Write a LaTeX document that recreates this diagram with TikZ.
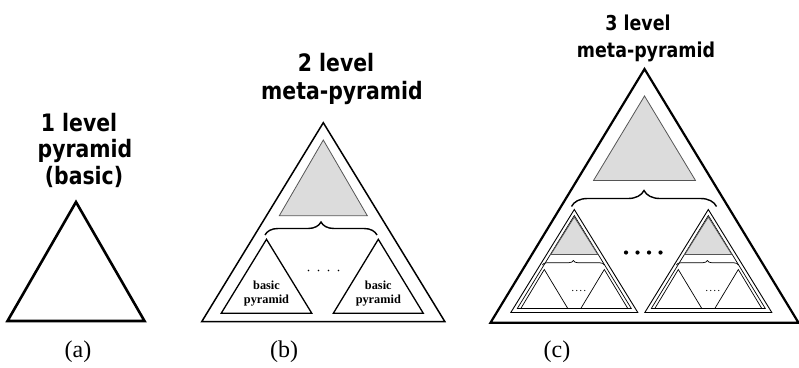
\documentclass[tikz,border=0pt]{standalone}
\usepackage{fontspec}
\setmainfont{Liberation Serif}
\newfontfamily\headfont{DejaVu Sans}[FakeStretch=0.85]
\usetikzlibrary{decorations.pathreplacing}

\definecolor{shade}{HTML}{DCDCDC}
\definecolor{shadeline}{HTML}{555555}

% triangle: [style]{centre x}{apex y}{base y}{half width}
\newcommand\drawtri[5][]{\draw[#1] (#2,#3) -- (#2+#5,#4) -- (#2-#5,#4) -- cycle;}
% a row of small round dots: {first x}{y}{spacing}{radius}
\newcommand\dotrow[4]{\foreach \k in {0,...,3}{\fill (#1+\k*#3,#2) circle[radius=#4];}}

\tikzset{
  heading/.style={font=\headfont\bfseries\fontsize{24}{28}\selectfont, anchor=base, inner sep=0pt},
  smallheading/.style={font=\headfont\bfseries\fontsize{20.5}{24}\selectfont, anchor=base, inner sep=0pt},
  caption/.style={font=\fontsize{24}{28}\selectfont, anchor=base, inner sep=0pt},
  inlabel/.style={font=\bfseries\fontsize{12.3}{14}\selectfont, anchor=base, inner sep=0pt},
  bigedge/.style={line width=2.2pt, line join=miter},
  midedge/.style={line width=1.5pt, line join=miter},
  thinedge/.style={line width=0.9pt, line join=miter},
  hairedge/.style={line width=0.7pt, line join=miter},
  greytri/.style={fill=shade, draw=shadeline, line width=0.8pt},
  bracebig/.style={decorate, decoration={brace, amplitude=#1}, line width=1.4pt},
  bracesmall/.style={decorate, decoration={brace, amplitude=#1}, line width=0.7pt},
}

% a two-level meta-pyramid drawn small, centred at x = #1
\newcommand\subpyramid[1]{%
  \drawtri[thinedge]{#1}{209.5}{312.5}{63.5}
  \drawtri[hairedge]{#1}{215.5}{308.5}{57}
  \drawtri[greytri]{#1}{217}{254.5}{23.5}
  \draw[bracesmall=4.5pt] (#1-32,265) -- (#1+30,265);
  \drawtri[hairedge]{#1-30}{269.5}{308.5}{23.5}
  \drawtri[hairedge]{#1+30}{269.5}{308.5}{23.5}
  \dotrow{#1-1.5}{290.5}{4}{0.6}
}

\begin{document}
\begin{tikzpicture}[x=1pt,y=-1pt]
\useasboundingbox (0,0) rectangle (799,367);

% ---------- (a) basic pyramid ----------
\node[heading] (ta1) at (79,131) {1 level};
\node[heading] (ta2) at (85,157.5) {pyramid};
\node[heading] (ta3) at (84,184) {(basic)};
\drawtri[line width=2.6pt, line join=miter]{76}{202}{321}{68.5}
\node[caption] (ca) at (78,357) {(a)};

% ---------- (b) two-level meta-pyramid ----------
\node[heading] (tb1) at (336,71.5) {2 level};
\node[heading] (tb2) at (342,99) {meta-pyramid};
\drawtri[midedge]{323.3}{122.7}{321.7}{121.6}
\drawtri[greytri]{323.3}{140}{215.7}{44}
\draw[bracebig=13pt] (265,235) -- (377,235);
\drawtri[line width=1.3pt, line join=miter]{266.5}{239.3}{313.3}{45.3}
\drawtri[line width=1.3pt, line join=miter]{378.3}{239.3}{313.3}{45}
\node[inlabel] (bl1) at (266.5,289) {basic};
\node[inlabel] (bl2) at (266.5,303) {pyramid};
\node[inlabel] (br1) at (378.3,289) {basic};
\node[inlabel] (br2) at (378.3,303) {pyramid};
\dotrow{308.5}{270.5}{10}{0.9}
\node[caption] (cb) at (284,357) {(b)};

% ---------- (c) three-level meta-pyramid ----------
\node[smallheading] (tc1) at (638,30) {3 level};
\node[smallheading] (tc2) at (646,57) {meta-pyramid};
\drawtri[bigedge]{644.5}{69}{322.7}{154}
\drawtri[greytri]{644.5}{96}{180.5}{51}
\draw[bracebig=16pt] (571.5,206.5) -- (716.5,206.5);
\subpyramid{574.3}
\subpyramid{708.3}
\dotrow{626}{252.5}{11.5}{2.1}
\node[caption] (cc) at (557,357) {(c)};
\end{tikzpicture}
\end{document}
